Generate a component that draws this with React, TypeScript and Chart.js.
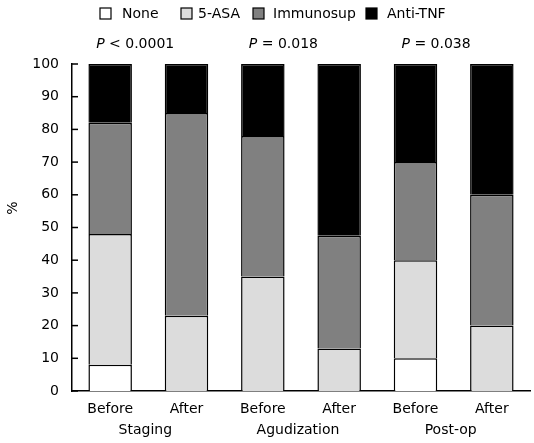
import { useEffect, useRef } from "react";
import { Chart, registerables } from "chart.js";

Chart.register(...registerables);

const categories = ["Before", "After", "Before", "After", "Before", "After"];
const groups = ["Staging", "Agudization", "Post-op"];
const pTexts = ["< 0.0001", "= 0.018", "= 0.038"];
const seriesNames = ["None", "5-ASA", "Immunosup", "Anti-TNF"];
const noneVals = [8, 0, 0, 0, 10, 0];
const asaVals = [40, 23, 35, 13, 30, 20];
const immunoVals = [34, 62, 43, 34.5, 30, 40];
const antiTnfVals = [18, 15, 22, 52.5, 30, 40];
const yTickValues = [0, 10, 20, 30, 40, 50, 60, 70, 80, 90, 100];

const colors = ["#ffffff", "#dcdcdc", "#808080", "#000000"];
const FONT = "'DejaVu Sans', sans-serif";

const overlayPlugin = {
  id: "overlay",
  afterDraw(chart: any) {
    const ctx = chart.ctx;
    const area = chart.chartArea;
    const x = chart.scales.x;
    const y = chart.scales.y;
    ctx.save();
    // inward y tick marks
    ctx.strokeStyle = "#000";
    ctx.lineWidth = 1.5;
    yTickValues.forEach((v) => {
      const py = y.getPixelForValue(v);
      ctx.beginPath();
      ctx.moveTo(area.left, py);
      ctx.lineTo(area.left + 6, py);
      ctx.stroke();
    });
    ctx.fillStyle = "#000";
    ctx.textBaseline = "middle";
    // group labels
    ctx.font = `14px ${FONT}`;
    ctx.textAlign = "center";
    groups.forEach((g, i) => {
      const cx = (x.getPixelForValue(2 * i) + x.getPixelForValue(2 * i + 1)) / 2;
      ctx.fillText(g, cx - 3, 430);
    });
    // p values
    ctx.textAlign = "left";
    pTexts.forEach((t, i) => {
      const sx = x.getPixelForValue(2 * i) - 14;
      ctx.font = `italic 14px ${FONT}`;
      ctx.fillText("P", sx, 44);
      const w = ctx.measureText("P").width;
      ctx.font = `14px ${FONT}`;
      ctx.fillText(" " + t, sx + w, 44);
    });
    // y title
    ctx.save();
    ctx.translate(13, 208);
    ctx.rotate(-Math.PI / 2);
    ctx.textAlign = "center";
    ctx.font = `14px ${FONT}`;
    ctx.fillText("%", 0, 0);
    ctx.restore();
    // legend
    const boxX = [100, 181, 253, 366];
    const textX = [122, 198, 273, 387];
    seriesNames.forEach((n, i) => {
      ctx.fillStyle = colors[i];
      ctx.fillRect(boxX[i], 8, 11, 11);
      ctx.strokeStyle = "#000";
      ctx.lineWidth = 1.2;
      ctx.strokeRect(boxX[i], 8, 11, 11);
      ctx.fillStyle = "#000";
      ctx.font = `14px ${FONT}`;
      ctx.textAlign = "left";
      ctx.fillText(n, textX[i], 14);
    });
    ctx.restore();
  },
};

export default function App() {
  const ref = useRef<HTMLCanvasElement>(null);
  useEffect(() => {
    if (!ref.current) return;
    const series = [noneVals, asaVals, immunoVals, antiTnfVals];
    const chart = new Chart(ref.current, {
      type: "bar",
      data: {
        labels: categories,
        datasets: series.map((d, i) => ({
          label: seriesNames[i],
          data: d,
          backgroundColor: colors[i],
          borderColor: "#000",
          borderWidth: 1.5,
          borderSkipped: "start",
          categoryPercentage: 0.57,
          barPercentage: 1,
        })),
      },
      options: {
        responsive: false,
        animation: false,
        layout: { padding: { top: 64, right: 4, left: 0, bottom: 0 } },
        plugins: { legend: { display: false }, tooltip: { enabled: false } },
        scales: {
          x: {
            stacked: true,
            grid: { display: false, drawTicks: false },
            border: { display: true, color: "#000", width: 1.5 },
            ticks: { color: "#000", font: { family: FONT, size: 14 }, padding: 10, maxRotation: 0 },
            afterFit: (s: any) => {
              s.height = 52;
            },
          },
          y: {
            stacked: true,
            min: 0,
            max: 100,
            grid: { display: false, drawTicks: false },
            border: { display: true, color: "#000", width: 1.5 },
            ticks: { stepSize: 10, color: "#000", font: { family: FONT, size: 14 }, padding: 13 },
            afterFit: (s: any) => {
              s.width = 72;
            },
          },
        },
      },
      plugins: [overlayPlugin],
    });
    return () => chart.destroy();
  }, []);
  return (
    <div style={{ position: "fixed", left: 0, top: 0, width: 534, height: 443, background: "#fff" }}>
      <canvas ref={ref} width={534} height={443} />
    </div>
  );
}
